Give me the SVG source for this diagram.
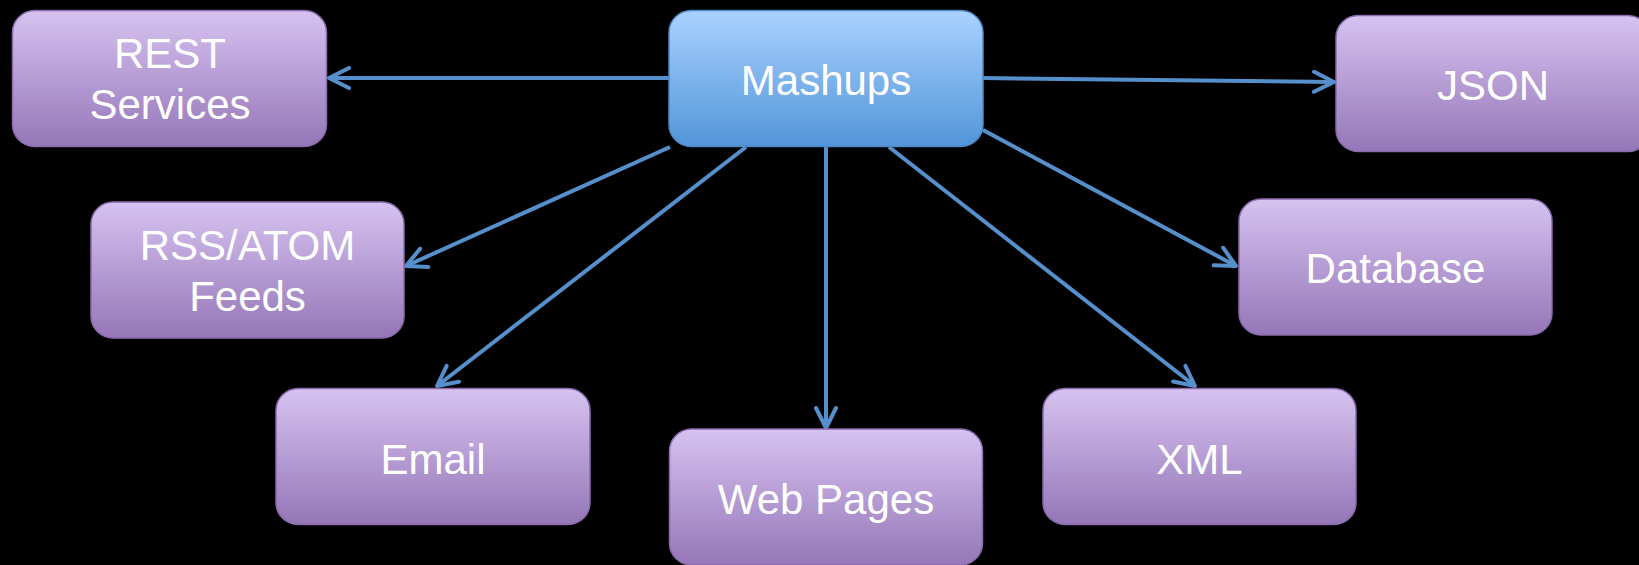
<svg xmlns="http://www.w3.org/2000/svg" width="1639" height="565" viewBox="0 0 1639 565">
<style>
.p{fill:url(#gp);stroke:#8a6bac;stroke-width:1.5}
.b{fill:url(#gb);stroke:#4f88c6;stroke-width:1.5}
.t{font-family:"Liberation Sans",Arial,sans-serif;font-size:42px;fill:#ffffff;text-anchor:middle}
.c{stroke:#5690cc;stroke-width:4;fill:none;marker-end:url(#ah)}
</style>
<defs>
<linearGradient id="gp" x1="0" y1="0" x2="0" y2="1">
<stop offset="0" stop-color="#d6c3f0"/>
<stop offset="1" stop-color="#9576b8"/>
</linearGradient>
<linearGradient id="gb" x1="0" y1="0" x2="0" y2="1">
<stop offset="0" stop-color="#aad2ff"/>
<stop offset="1" stop-color="#5295d9"/>
</linearGradient>
<marker id="ah" markerUnits="userSpaceOnUse" viewBox="0 0 24 24" markerWidth="24" markerHeight="24" refX="22" refY="12" orient="auto">
<path d="M2,2 L22,12 L2,22" fill="none" stroke="#5690cc" stroke-width="4" stroke-linecap="round" stroke-linejoin="round"/>
</marker>
</defs>
<rect width="1639" height="565" fill="#000000"/>
<g id="connectors">
<line class="c" x1="669" y1="78" x2="329" y2="78"/>
<line class="c" x1="983" y1="78" x2="1334" y2="82"/>
<line class="c" x1="670" y1="147" x2="406" y2="266"/>
<line class="c" x1="746" y1="147" x2="437" y2="386"/>
<line class="c" x1="826" y1="146" x2="826" y2="428"/>
<line class="c" x1="889" y1="147" x2="1195" y2="386"/>
<line class="c" x1="983" y1="130" x2="1236" y2="266"/>
</g>
<g id="rest">
<rect class="p" x="12.5" y="10.5" width="314" height="136" rx="22"/>
<text class="t" x="170" y="68">REST</text>
<text class="t" x="170" y="119">Services</text>
</g>
<g id="mashups">
<rect class="b" x="669" y="10.5" width="314" height="136" rx="22"/>
<text class="t" x="826" y="95">Mashups</text>
</g>
<g id="json">
<rect class="p" x="1336" y="15.5" width="314" height="136" rx="22"/>
<text class="t" x="1493" y="100">JSON</text>
</g>
<g id="rss">
<rect class="p" x="91" y="202" width="313" height="136" rx="22"/>
<text class="t" x="247.5" y="260">RSS/ATOM</text>
<text class="t" x="247.5" y="311">Feeds</text>
</g>
<g id="database">
<rect class="p" x="1239" y="199" width="313" height="136" rx="22"/>
<text class="t" x="1395.5" y="283">Database</text>
</g>
<g id="email">
<rect class="p" x="276" y="388.5" width="314" height="136" rx="22"/>
<text class="t" x="433" y="474">Email</text>
</g>
<g id="webpages">
<rect class="p" x="669.5" y="429" width="313" height="136" rx="22"/>
<text class="t" x="826" y="514">Web Pages</text>
</g>
<g id="xml">
<rect class="p" x="1043" y="388.5" width="313" height="136" rx="22"/>
<text class="t" x="1199.5" y="474">XML</text>
</g>
</svg>
